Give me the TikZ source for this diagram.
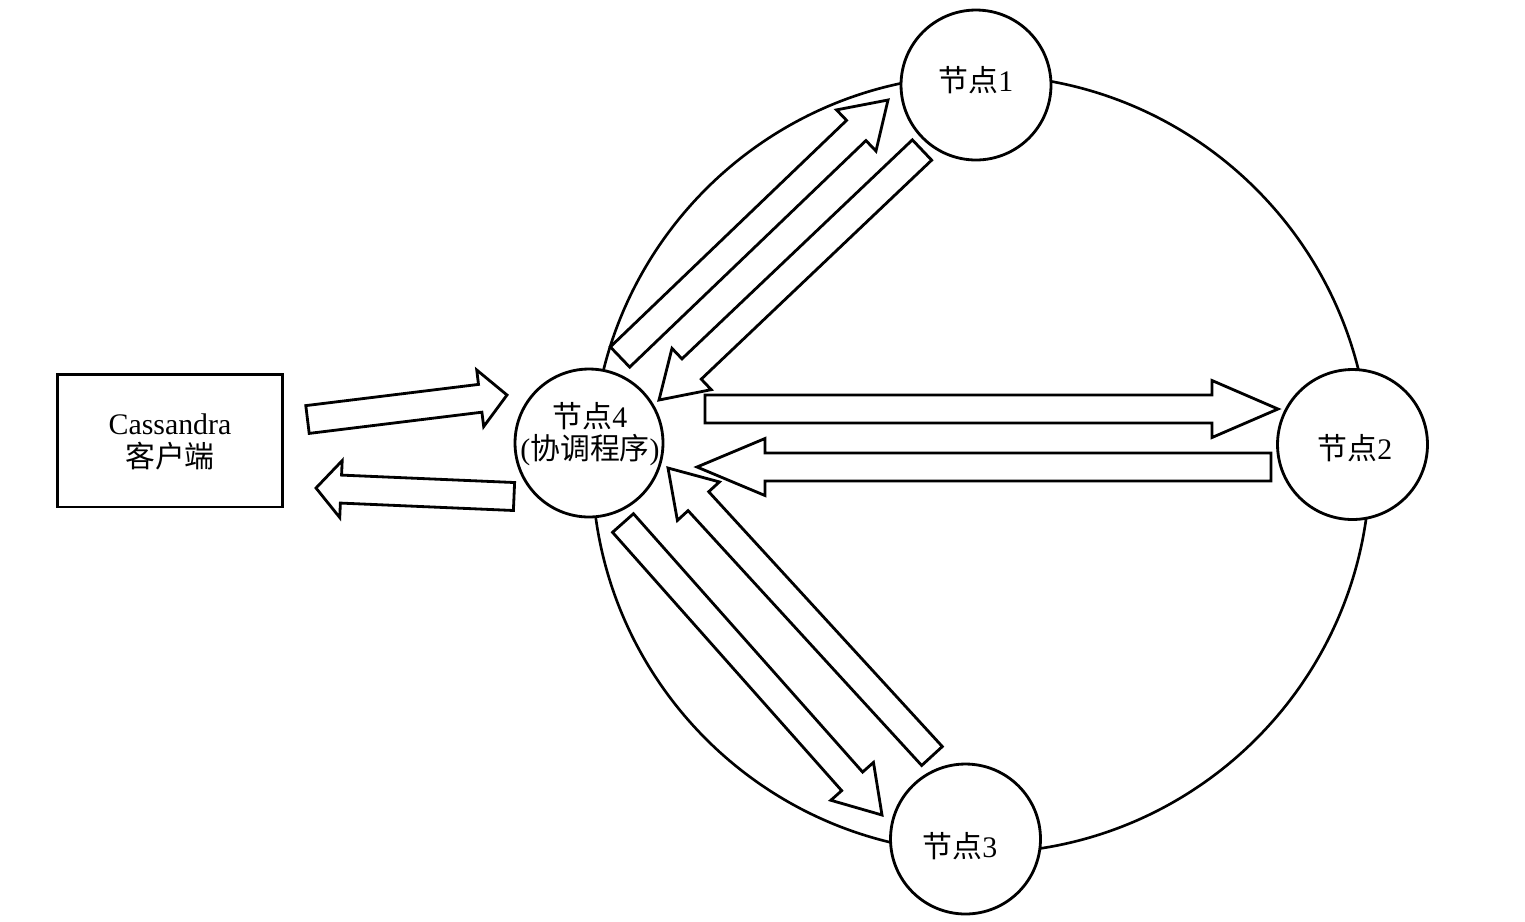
\documentclass[tikz,border=0pt]{standalone}
\usepackage{fontspec}
\setmainfont{Liberation Serif}
\newfontfamily\cjk{Noto Sans CJK SC}
\usetikzlibrary{calc}
\tikzset{
 ringline/.style={line width=1.5pt},
 nodecirc/.style={circle, draw, line width=1.6pt, fill=white, minimum size=3.0cm, inner sep=0pt},
 lbl/.style={font=\fontsize{17}{18.5}\selectfont, align=center, inner sep=0pt},
 clientbox/.style={draw, line width=1.7pt, minimum width=4.52cm, minimum height=2.66cm, inner sep=0pt},
 blockarrowstyle/.style={draw, line width=1.6pt, fill=white, line join=miter},
}
\newcommand\blockarrow[3]{%
 \coordinate (hb) at ($(#2)!#3!(#1)$);
 \draw[blockarrowstyle] ($(#1)!0.28cm!90:(#2)$) -- ($(hb)!0.28cm!90:(#2)$) -- ($(hb)!0.57cm!90:(#2)$) -- (#2) -- ($(hb)!0.57cm!-90:(#2)$) -- ($(hb)!0.28cm!-90:(#2)$) -- ($(#1)!0.28cm!-90:(#2)$) -- cycle;}
\begin{document}
\begin{tikzpicture}[x=0.02cm, y=-0.02cm]
\useasboundingbox (0,0) rectangle (1525,921);
% ring
\coordinate (ringc) at (981,464);
\draw[ringline] (ringc) circle[radius=7.78cm];
% client box
\node[clientbox] (client) at (170,440.5) {};
\node[lbl] (clientlbl) at (170,442) {Cassandra\\{\cjk 客户端}};
% nodes
\node[nodecirc, minimum size=2.96cm] (n4) at (589,443) {};
\node[nodecirc] (n1) at (976,85) {};
\node[nodecirc] (n2) at (1352.5,444.5) {};
\node[nodecirc] (n3) at (965.5,839) {};
\node[lbl] (n4lbl) at (590,434) {{\cjk 节点}4\\({\cjk 协调程序})};
\node[lbl] (n1lbl) at (976,80) {{\cjk 节点}1};
\node[lbl] (n2lbl) at (1355,448) {{\cjk 节点}2};
\node[lbl] (n3lbl) at (960,846) {{\cjk 节点}3};
% arrow end points
\coordinate (c2a) at (307.5,419.5); \coordinate (c2b) at (507,395);
\coordinate (r2a) at (514,496.5);   \coordinate (r2b) at (316,488);
\coordinate (s2a) at (705,409);     \coordinate (s2b) at (1278,409);
\coordinate (t2a) at (1271,467);    \coordinate (t2b) at (697,467);
\coordinate (u1a) at (620,357);     \coordinate (u1b) at (888,100);
\coordinate (v1a) at (922,150);     \coordinate (v1b) at (659,400);
\coordinate (w3a) at (623,523);     \coordinate (w3b) at (882,815);
\coordinate (x3a) at (932,756);     \coordinate (x3b) at (668,468);
% block arrows
\blockarrow{c2a}{c2b}{0.54cm}
\blockarrow{r2a}{r2b}{0.5cm}
\blockarrow{s2a}{s2b}{1.32cm}
\blockarrow{t2a}{t2b}{1.36cm}
\blockarrow{u1a}{u1b}{0.88cm}
\blockarrow{v1a}{v1b}{0.9cm}
\blockarrow{w3a}{w3b}{0.9cm}
\blockarrow{x3a}{x3b}{0.9cm}
\end{tikzpicture}
\end{document}
